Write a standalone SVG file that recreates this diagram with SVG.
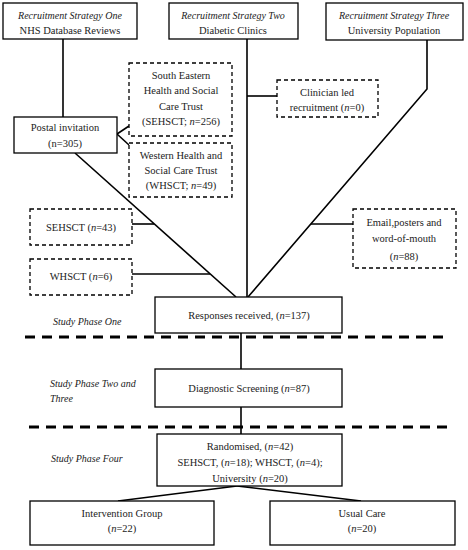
<svg xmlns="http://www.w3.org/2000/svg" width="468" height="550" viewBox="0 0 468 550">
<style>
.b{fill:#fff;stroke:#000;stroke-width:1.3}
.d{fill:#fff;stroke:#000;stroke-width:1.3;stroke-dasharray:4 3}
.c{fill:none;stroke:#000;stroke-width:1.6}
.sep{fill:none;stroke:#000;stroke-width:3;stroke-dasharray:10 7}
text{font-family:"Liberation Serif","Times New Roman",serif;font-size:10.5px;fill:#222;text-anchor:middle}
.i{font-style:italic}
.h{font-size:10px}
.l{text-anchor:start}
</style>
<rect width="468" height="550" fill="#fff"/>
<g id="connectors">
<line class="c" x1="63" y1="39" x2="63" y2="117"/>
<line class="c" x1="117" y1="134" x2="129" y2="126"/>
<line class="c" x1="117" y1="134" x2="129" y2="145"/>
<line class="c" x1="75" y1="153" x2="236" y2="297"/>
<line class="c" x1="247" y1="39" x2="247" y2="297"/>
<line class="c" x1="247" y1="96" x2="277" y2="96"/>
<polyline class="c" points="427,40 427,89 248,297"/>
<line class="c" x1="132" y1="224" x2="154" y2="224"/>
<line class="c" x1="132" y1="274" x2="210" y2="274"/>
<line class="c" x1="311" y1="224" x2="353" y2="224"/>
<line class="c" x1="241" y1="333" x2="241" y2="369"/>
<line class="c" x1="241" y1="407" x2="241" y2="434"/>
<line class="c" x1="237" y1="486" x2="118" y2="501"/>
<line class="c" x1="237" y1="486" x2="361" y2="501"/>
<line class="sep" x1="25" y1="337" x2="446" y2="337"/>
<line class="sep" x1="29" y1="427" x2="449" y2="427"/>
</g>
<g id="strategy1"><rect class="b" x="3" y="3" width="134" height="36"/>
<text class="i h" x="70" y="19">Recruitment Strategy One</text>
<text x="70" y="34">NHS Database Reviews</text></g>
<g id="strategy2"><rect class="b" x="169" y="3" width="129" height="36"/>
<text class="i h" x="233" y="19">Recruitment Strategy Two</text>
<text x="233" y="34">Diabetic Clinics</text></g>
<g id="strategy3"><rect class="b" x="326" y="3" width="137" height="37"/>
<text class="i h" x="394" y="19">Recruitment Strategy Three</text>
<text x="394" y="34">University Population</text></g>
<g id="postal"><rect class="b" x="14" y="117" width="103" height="36"/>
<text x="65" y="131">Postal invitation</text>
<text x="65" y="147">(n=305)</text></g>
<g id="sehsct256"><rect class="d" x="129" y="63" width="103" height="73"/>
<text x="181" y="79">South Eastern</text>
<text x="181" y="94">Health and Social</text>
<text x="181" y="110">Care Trust</text>
<text x="181" y="125">(SEHSCT; <tspan class="i">n</tspan>=256)</text></g>
<g id="whsct49"><rect class="d" x="129" y="143" width="103" height="54"/>
<text x="181" y="159">Western Health and</text>
<text x="181" y="174">Social Care Trust</text>
<text x="181" y="189">(WHSCT; <tspan class="i">n</tspan>=49)</text></g>
<g id="clinician"><rect class="d" x="277" y="80" width="101" height="37"/>
<text x="327" y="96">Clinician led</text>
<text x="327" y="111">recruitment (<tspan class="i">n</tspan>=0)</text></g>
<g id="sehsct43"><rect class="d" x="30" y="209" width="102" height="36"/>
<text x="81" y="231">SEHSCT (<tspan class="i">n</tspan>=43)</text></g>
<g id="whsct6"><rect class="d" x="30" y="259" width="102" height="36"/>
<text x="81" y="280">WHSCT (<tspan class="i">n</tspan>=6)</text></g>
<g id="email"><rect class="d" x="353" y="209" width="103" height="59"/>
<text x="404" y="226">Email,posters and</text>
<text x="404" y="242">word-of-mouth</text>
<text x="404" y="260">(<tspan class="i">n</tspan>=88)</text></g>
<g id="responses"><rect class="b" x="155" y="297" width="187" height="36"/>
<text x="249" y="319">Responses received, (<tspan class="i">n</tspan>=137)</text></g>
<g id="diagnostic"><rect class="b" x="155" y="369" width="187" height="38"/>
<text x="249" y="392">Diagnostic Screening (<tspan class="i">n</tspan>=87)</text></g>
<g id="randomised"><rect class="b" x="157" y="434" width="185" height="52"/>
<text x="250" y="450">Randomised, (<tspan class="i">n</tspan>=42)</text>
<text x="250" y="466">SEHSCT, (<tspan class="i">n</tspan>=18); WHSCT, (<tspan class="i">n</tspan>=4);</text>
<text x="250" y="482">University (<tspan class="i">n</tspan>=20)</text></g>
<g id="intervention"><rect class="b" x="30" y="501" width="184" height="44"/>
<text x="122" y="517">Intervention Group</text>
<text x="122" y="532">(<tspan class="i">n</tspan>=22)</text></g>
<g id="usual"><rect class="b" x="270" y="501" width="185" height="44"/>
<text x="362" y="517">Usual Care</text>
<text x="362" y="532">(<tspan class="i">n</tspan>=20)</text></g>
<g id="phases">
<text class="i h l" x="53" y="325">Study Phase One</text>
<text class="i h l" x="50" y="387">Study Phase Two and</text>
<text class="i h l" x="50" y="402">Three</text>
<text class="i h l" x="51" y="462">Study Phase Four</text>
</g>
</svg>
